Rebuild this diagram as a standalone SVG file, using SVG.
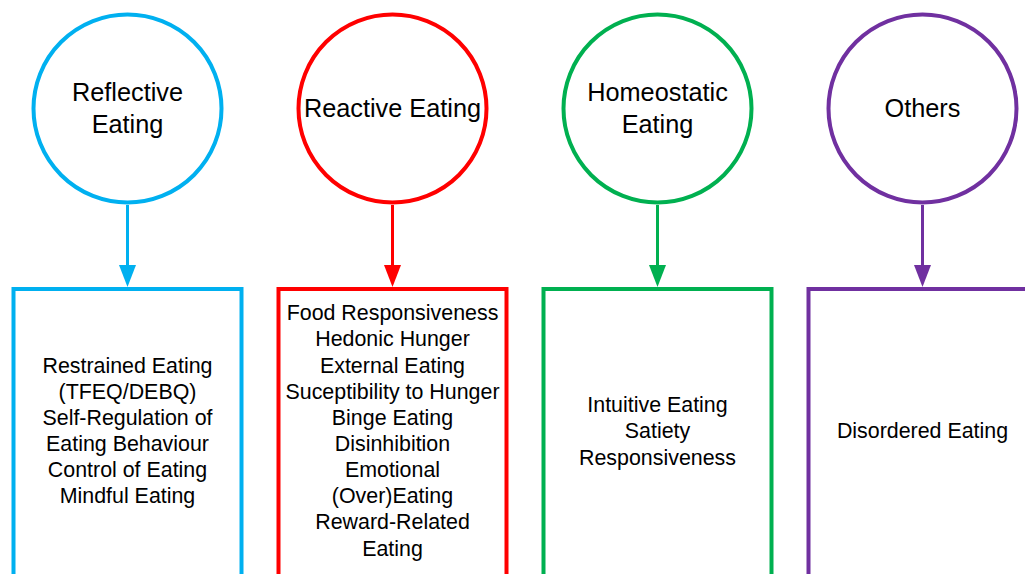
<svg xmlns="http://www.w3.org/2000/svg" width="1025" height="574" viewBox="0 0 1025 574">
  <style>
    .circle { fill: #ffffff; stroke-width: 4; }
    .box { fill: #ffffff; stroke-width: 4; }
    .title { font-family: "Liberation Sans", Arial, sans-serif; font-size: 25.3px; fill: #000000; text-anchor: middle; }
    .item { font-family: "Liberation Sans", Arial, sans-serif; font-size: 21.4px; fill: #000000; text-anchor: middle; }
    .link { stroke-width: 3; fill: none; }
    .blue { stroke: #00B0F0; }
    .red { stroke: #FF0000; }
    .green { stroke: #00B050; }
    .purple { stroke: #7030A0; }
  </style>
  <rect width="1025" height="574" fill="#ffffff"/>

  <!-- connectors: circle to box, with filled arrowheads -->
  <g id="connectors">
    <line class="link blue" x1="127.5" y1="205" x2="127.5" y2="268"/>
    <polygon points="119,265 136,265 127.5,287" fill="#00B0F0"/>
    <line class="link red" x1="392.5" y1="205" x2="392.5" y2="268"/>
    <polygon points="384,265 401,265 392.5,287" fill="#FF0000"/>
    <line class="link green" x1="657.5" y1="205" x2="657.5" y2="268"/>
    <polygon points="649,265 666,265 657.5,287" fill="#00B050"/>
    <line class="link purple" x1="922.5" y1="205" x2="922.5" y2="268"/>
    <polygon points="914,265 931,265 922.5,287" fill="#7030A0"/>
  </g>

  <!-- category circles -->
  <g id="reflective-eating">
    <circle class="circle blue" cx="127.5" cy="108.5" r="94"/>
    <text class="title" x="127.5" y="101">Reflective</text>
    <text class="title" x="127.5" y="133">Eating</text>
  </g>
  <g id="reactive-eating">
    <circle class="circle red" cx="392.5" cy="108.5" r="94"/>
    <text class="title" x="392.5" y="117">Reactive Eating</text>
  </g>
  <g id="homeostatic-eating">
    <circle class="circle green" cx="657.5" cy="108.5" r="94"/>
    <text class="title" x="657.5" y="101">Homeostatic</text>
    <text class="title" x="657.5" y="133">Eating</text>
  </g>
  <g id="others">
    <circle class="circle purple" cx="922.5" cy="108.5" r="94"/>
    <text class="title" x="922.5" y="117">Others</text>
  </g>

  <!-- measure boxes -->
  <g id="reflective-measures">
    <rect class="box blue" x="13.5" y="289" width="228" height="290"/>
    <text class="item" x="127.5" y="373">Restrained Eating</text>
    <text class="item" x="127.5" y="399">(TFEQ/DEBQ)</text>
    <text class="item" x="127.5" y="425">Self-Regulation of</text>
    <text class="item" x="127.5" y="451">Eating Behaviour</text>
    <text class="item" x="127.5" y="477">Control of Eating</text>
    <text class="item" x="127.5" y="503">Mindful Eating</text>
  </g>
  <g id="reactive-measures">
    <rect class="box red" x="278.5" y="289" width="228" height="290"/>
    <text class="item" x="392.5" y="320">Food Responsiveness</text>
    <text class="item" x="392.5" y="346">Hedonic Hunger</text>
    <text class="item" x="392.5" y="373">External Eating</text>
    <text class="item" x="392.5" y="399">Suceptibility to Hunger</text>
    <text class="item" x="392.5" y="425">Binge Eating</text>
    <text class="item" x="392.5" y="451">Disinhibition</text>
    <text class="item" x="392.5" y="477">Emotional</text>
    <text class="item" x="392.5" y="503">(Over)Eating</text>
    <text class="item" x="392.5" y="529">Reward-Related</text>
    <text class="item" x="392.5" y="556">Eating</text>
  </g>
  <g id="homeostatic-measures">
    <rect class="box green" x="543.5" y="289" width="228" height="290"/>
    <text class="item" x="657.5" y="412">Intuitive Eating</text>
    <text class="item" x="657.5" y="438">Satiety</text>
    <text class="item" x="657.5" y="465">Responsiveness</text>
  </g>
  <g id="other-measures">
    <rect class="box purple" x="808.5" y="289" width="228" height="290"/>
    <text class="item" x="922.5" y="438">Disordered Eating</text>
  </g>
</svg>
